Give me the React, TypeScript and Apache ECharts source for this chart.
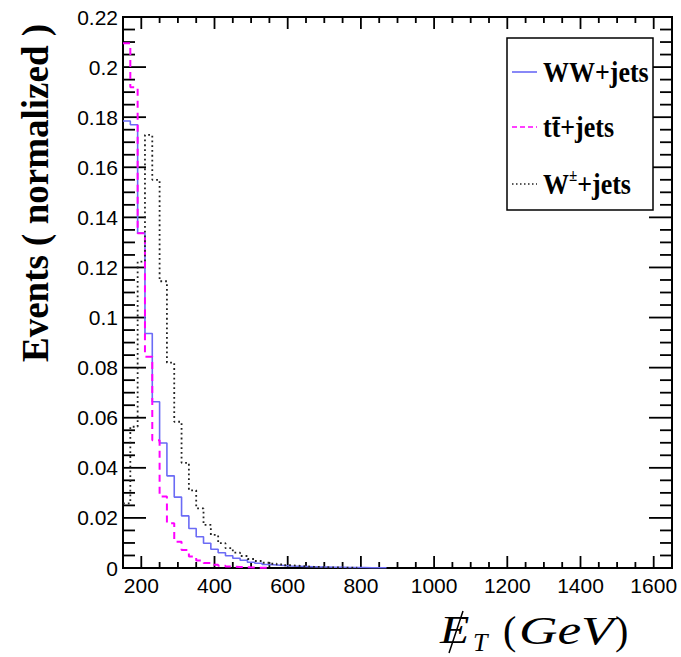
import React, { useEffect, useRef } from "react";
import * as echarts from "echarts";

// Histogram binning (GeV)
const BIN_START = 150;
const BIN_WIDTH = 20;

// Normalized event fractions per 20 GeV bin, starting at 150 GeV
const wwJets = [
  0.1785, 0.177, 0.1337, 0.0936, 0.0664, 0.0499, 0.0368, 0.0283, 0.0208, 0.0158,
  0.0125, 0.0099, 0.0075, 0.0061, 0.0049, 0.0039, 0.0031, 0.0023, 0.0019, 0.0014,
  0.0012, 0.001, 0.0008, 0.0007, 0.0006, 0.0005, 0.0004, 0.0004, 0.0003, 0.0003,
  0.0002, 0.0002, 0.0002, 0.0001, 0.0001, 0.0001,
];
const ttJets = [
  0.2095, 0.192, 0.1337, 0.0843, 0.051, 0.0285, 0.0179, 0.0105, 0.0072, 0.0046,
  0.003, 0.002, 0.0013, 0.0009, 0.0006, 0.0004, 0.0003, 0.0002, 0.0001, 0.0001,
];
const wJets = [
  0.0258, 0.0564, 0.1223, 0.1729, 0.155, 0.1145, 0.082, 0.0584, 0.042, 0.031,
  0.0238, 0.0172, 0.0132, 0.0099, 0.0079, 0.0061, 0.0048, 0.0036, 0.0028, 0.0021,
  0.0017, 0.0014, 0.0011, 0.0009, 0.0007, 0.0005, 0.0004, 0.0003, 0.0002, 0.0002,
  0.0001, 0.0001,
];

const X_MIN = 150;
const X_MAX = 1650;
const xMajorTicks = [200, 400, 600, 800, 1000, 1200, 1400, 1600];
const xMinorTicks = [
  150, 250, 300, 350, 450, 500, 550, 650, 700, 750, 850, 900, 950, 1050, 1100,
  1150, 1250, 1300, 1350, 1450, 1500, 1550, 1650,
];
const Y_MIN = 0;
const Y_MAX = 0.22;
const Y_STEP = 0.02;
const Y_MINOR_DIV = 4;

const seriesNames = ["WW+jets", "tt\u0304+jets", "W\u00b1+jets"];

function toSteps(values: number[]): number[][] {
  const pts = values.map((v, i) => [BIN_START + i * BIN_WIDTH, v]);
  pts.push([BIN_START + values.length * BIN_WIDTH, 0]);
  return pts;
}

const SANS = '"Liberation Sans", Arial, sans-serif';
const SERIF = '"Liberation Serif", "Times New Roman", serif';
const W = 681;
const H = 657;

export default function App() {
  const ref = useRef<HTMLDivElement>(null);

  useEffect(() => {
    if (!ref.current) return;
    const chart = echarts.init(ref.current, undefined, { renderer: "svg" });

    const yMajor: number[] = [];
    const yMinor: number[] = [];
    const nMinor = Math.round((Y_MAX - Y_MIN) / (Y_STEP / Y_MINOR_DIV));
    for (let i = 0; i <= nMinor; i++) {
      const v = Y_MIN + (i * Y_STEP) / Y_MINOR_DIV;
      if (i % Y_MINOR_DIV === 0) yMajor.push(v);
      else yMinor.push(v);
    }

    const labelGraphic: any[] = [
      // Y axis title
      {
        type: "text",
        x: 35,
        y: 193,
        rotation: Math.PI / 2,
        style: {
          text: "Events ( normalized )",
          font: `bold 37px ${SERIF}`,
          fill: "#000",
          textAlign: "center",
          textVerticalAlign: "middle",
        },
      },
      // X axis title: missing E_T (GeV)
      {
        type: "text",
        x: 440,
        y: 630,
        scaleX: 1.2,
        style: { text: "E", font: `italic 40px ${SERIF}`, fill: "#000", textAlign: "left", textVerticalAlign: "middle" },
      },
      {
        type: "line",
        shape: { x1: 449, y1: 653, x2: 463, y2: 611 },
        style: { stroke: "#000", lineWidth: 1.5 },
      },
      {
        type: "text",
        x: 473,
        y: 642,
        style: { text: "T", font: `italic 26px ${SERIF}`, fill: "#000", textAlign: "left", textVerticalAlign: "middle" },
      },
      {
        type: "text",
        x: 503,
        y: 630,
        style: { text: "(", font: `40px ${SERIF}`, fill: "#000", textAlign: "left", textVerticalAlign: "middle" },
      },
      {
        type: "text",
        x: 519,
        y: 630,
        scaleX: 1.3,
        style: { text: "GeV", font: `italic 41px ${SERIF}`, fill: "#000", textAlign: "left", textVerticalAlign: "middle" },
      },
      {
        type: "text",
        x: 615,
        y: 630,
        style: { text: ")", font: `40px ${SERIF}`, fill: "#000", textAlign: "left", textVerticalAlign: "middle" },
      },
    ];

    const legendGraphic: any[] = [
      {
        type: "rect",
        shape: { x: 507, y: 38, width: 146, height: 172 },
        style: { fill: "#fff", stroke: "#000", lineWidth: 1.5 },
      },
      {
        type: "line",
        shape: { x1: 512, y1: 72, x2: 537, y2: 72 },
        style: { stroke: "#6b6bf5", lineWidth: 1.6 },
      },
      {
        type: "line",
        shape: { x1: 512, y1: 127, x2: 537, y2: 127 },
        style: { stroke: "#ff00ff", lineWidth: 1.6, lineDash: [5, 3] },
      },
      {
        type: "line",
        shape: { x1: 512, y1: 184, x2: 537, y2: 184 },
        style: { stroke: "#222", lineWidth: 1.5, lineDash: [1.5, 2.5] },
      },
      {
        type: "text",
        x: 543,
        y: 72,
        scaleY: 1.15,
        style: { text: seriesNames[0], font: `bold 26px ${SERIF}`, fill: "#000", textAlign: "left", textVerticalAlign: "middle" },
      },
      {
        type: "text",
        x: 543,
        y: 127,
        scaleY: 1.15,
        style: { text: seriesNames[1], font: `bold 26px ${SERIF}`, fill: "#000", textAlign: "left", textVerticalAlign: "middle" },
      },
      {
        type: "text",
        x: 543,
        y: 184,
        scaleY: 1.15,
        style: {
          text: "W{s|\u00b1}+jets",
          font: `bold 26px ${SERIF}`,
          fill: "#000",
          textAlign: "left",
          textVerticalAlign: "middle",
          rich: {
            s: { font: `bold 15px ${SERIF}`, fill: "#000", verticalAlign: "top", lineHeight: 30 },
          },
        },
      },
    ];

    const option: any = {
      animation: false,
      backgroundColor: "#fff",
      grid: {
        left: 123,
        right: 9,
        top: 17,
        bottom: 89,
        outerBoundsMode: "none",
        show: true,
        borderColor: "#000",
        borderWidth: 2,
        backgroundColor: "transparent",
      },
      xAxis: {
        type: "value",
        min: X_MIN,
        max: X_MAX,
        splitLine: { show: false },
        axisLine: { show: true, onZero: false, lineStyle: { color: "#000", width: 2 } },
        axisTick: { show: false },
        axisLabel: {
          show: true,
          customValues: xMajorTicks,
          margin: 7,
          color: "#000",
          fontFamily: SANS,
          fontSize: 21,
          formatter: (v: number) => String(v),
        },
      },
      yAxis: {
        type: "value",
        min: Y_MIN,
        max: Y_MAX,
        interval: Y_STEP,
        splitLine: { show: false },
        axisLine: { show: true, onZero: false, lineStyle: { color: "#000", width: 2 } },
        axisTick: { show: false },
        minorTick: { show: false },
        axisLabel: {
          show: true,
          margin: 5,
          color: "#000",
          fontFamily: SANS,
          fontSize: 21,
          showMaxLabel: true,
          showMinLabel: true,
          formatter: (v: number) => String(parseFloat(v.toFixed(3))),
        },
      },
      series: [
        {
          name: seriesNames[0],
          type: "line",
          step: "end",
          showSymbol: false,
          symbol: "none",
          data: toSteps(wwJets),
          lineStyle: { color: "#6b6bf5", width: 1.6, type: "solid" },
        },
        {
          name: seriesNames[1],
          type: "line",
          step: "end",
          showSymbol: false,
          symbol: "none",
          data: toSteps(ttJets),
          lineStyle: { color: "#ff00ff", width: 2, type: [7, 5] },
        },
        {
          name: seriesNames[2],
          type: "line",
          step: "end",
          showSymbol: false,
          symbol: "none",
          data: toSteps(wJets),
          lineStyle: { color: "#222", width: 1.8, type: [1.8, 3] },
        },
      ],
    };

    chart.setOption(option);

    // Inward ticks on all four sides, placed through the chart's own axis scales
    const toPx = (x: number, y: number): number[] =>
      chart.convertToPixel({ xAxisIndex: 0, yAxisIndex: 0 }, [x, y]) as any;
    const [left, bottom] = toPx(X_MIN, Y_MIN);
    const [right, top] = toPx(X_MAX, Y_MAX);
    const tw = 1.8;
    const ticks: any[] = [];
    const vTick = (x: number, len: number) => {
      const px = toPx(x, Y_MIN)[0];
      ticks.push({ type: "rect", shape: { x: px - tw / 2, y: bottom - len, width: tw, height: len }, style: { fill: "#000" } });
      ticks.push({ type: "rect", shape: { x: px - tw / 2, y: top, width: tw, height: len }, style: { fill: "#000" } });
    };
    const hTick = (y: number, len: number) => {
      const py = toPx(X_MIN, y)[1];
      ticks.push({ type: "rect", shape: { x: left, y: py - tw / 2, width: len, height: tw }, style: { fill: "#000" } });
      ticks.push({ type: "rect", shape: { x: right - len, y: py - tw / 2, width: len, height: tw }, style: { fill: "#000" } });
    };
    xMajorTicks.forEach((x) => vTick(x, 12));
    xMinorTicks.forEach((x) => vTick(x, 6));
    yMajor.forEach((y) => hTick(y, 23));
    yMinor.forEach((y) => hTick(y, 12));

    chart.setOption({ graphic: [...ticks, ...labelGraphic, ...legendGraphic] });

    return () => {
      chart.dispose();
    };
  }, []);

  return <div ref={ref} style={{ position: "fixed", left: 0, top: 0, width: W, height: H }} />;
}
